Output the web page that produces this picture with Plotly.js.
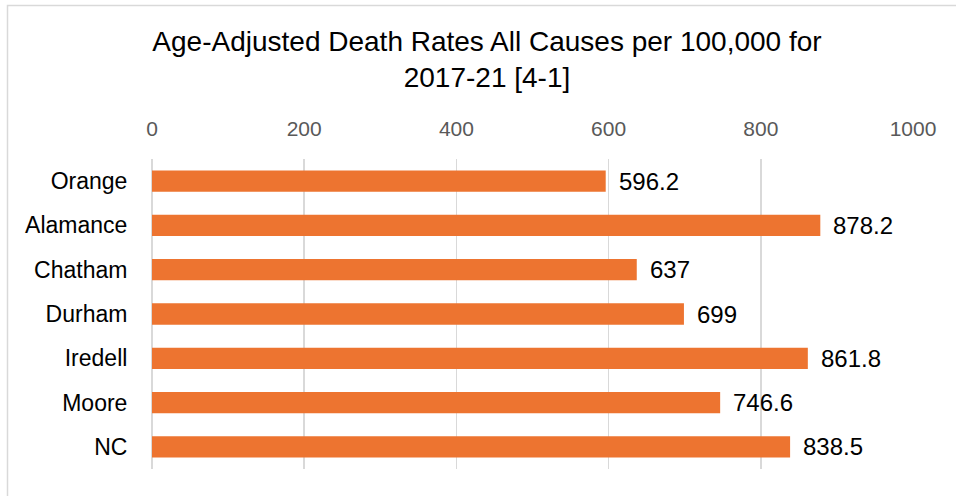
<!DOCTYPE html>
<html>
<head>
<meta charset="utf-8">
<script src="https://cdn.plot.ly/plotly-3.0.1.min.js"></script>
<style>
  html, body { margin: 0; padding: 0; background: #fff; }
  #chart { width: 956px; height: 496px; }
</style>
</head>
<body>
<div id="chart"></div>
<script>
// Age-adjusted all-cause death rates per 100,000, 2017-21
const counties = ["Orange", "Alamance", "Chatham", "Durham", "Iredell", "Moore", "NC"];
const rates = [596.2, 878.2, 637, 699, 861.8, 746.6, 838.5];
const tickValues = [0, 200, 400, 600, 800, 1000];

const W = 956, H = 496;
const margin = { l: 152, r: 43, t: 159, b: 27 };
const plotW = W - margin.l - margin.r;
const plotH = H - margin.t - margin.b;
const FONT = "Liberation Sans, Arial, sans-serif";

// convert pixel positions to paper coordinates for the outer frame
const px = x => (x - margin.l) / plotW;
const py = y => 1 - (y - margin.t) / plotH;

const trace = {
  type: "bar",
  orientation: "h",
  y: counties,
  x: rates,
  width: 0.48,
  marker: { color: "#ED7430", line: { width: 0 } },
  hoverinfo: "x+y"
};

const valueLabels = counties.map((c, i) => ({
  x: rates[i],
  y: c,
  xref: "x",
  yref: "y",
  text: String(rates[i]),
  showarrow: false,
  xanchor: "left",
  xshift: 11,
  font: { family: FONT, size: 24, color: "#000" }
}));

const layout = {
  width: W,
  height: H,
  margin: margin,
  paper_bgcolor: "#fff",
  plot_bgcolor: "#fff",
  showlegend: false,
  title: {
    text: "Age-Adjusted Death Rates All Causes per 100,000 for<br>2017-21 [4-1]",
    x: 487 / W,
    xref: "container",
    xanchor: "center",
    y: 1 - 51 / H,
    yref: "container",
    yanchor: "middle",
    font: { family: FONT, size: 28, color: "#000" }
  },
  xaxis: {
    side: "top",
    range: [0, 1000],
    tickvals: tickValues,
    ticktext: tickValues.map(String),
    showgrid: true,
    gridcolor: "#d9d9d9",
    gridwidth: 1.5,
    zeroline: true,
    zerolinecolor: "#d9d9d9",
    zerolinewidth: 1.5,
    showline: false,
    ticks: "outside",
    ticklen: 14,
    tickcolor: "rgba(0,0,0,0)",
    tickfont: { family: FONT, size: 21, color: "#595959" },
    fixedrange: true
  },
  yaxis: {
    autorange: "reversed",
    showgrid: false,
    zeroline: false,
    showline: false,
    ticks: "outside",
    ticklen: 19,
    tickcolor: "rgba(0,0,0,0)",
    tickfont: { family: FONT, size: 23, color: "#000" },
    fixedrange: true
  },
  annotations: valueLabels,
  shapes: [
    {
      type: "rect",
      xref: "paper",
      yref: "paper",
      x0: px(7.5),
      x1: px(960),
      y0: py(5.5),
      y1: py(500),
      line: { color: "#d9d9d9", width: 1.5 },
      fillcolor: "rgba(0,0,0,0)",
      layer: "below"
    }
  ]
};

Plotly.newPlot("chart", [trace], layout, { displayModeBar: false, staticPlot: true });
</script>
</body>
</html>
